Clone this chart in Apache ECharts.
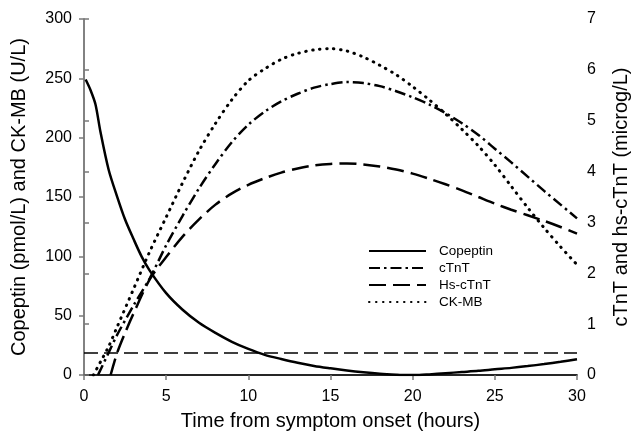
<!DOCTYPE html>
<html>
<head>
<meta charset="utf-8">
<script src="https://cdn.jsdelivr.net/npm/echarts@6/dist/echarts.min.js"></script>
<style>
  html, body { margin: 0; padding: 0; background: #fff; }
  #chart { width: 631px; height: 436px; }
</style>
</head>
<body>
<div id="chart"></div>
<script>
// hours from symptom onset, one array per curve (they start at different times)
const copeptinHours = [0.1, 0.4, 0.7, 1, 1.5, 2, 2.5, 3, 3.5, 4, 5, 6, 7, 8, 9, 10, 11, 12, 13, 14, 15, 16, 17, 18, 19, 19.6, 20.4, 21, 22, 23, 24, 25, 26, 27, 28, 29, 30]
const copeptin = [249, 240, 228, 205, 173, 151, 131, 115, 100, 88, 69, 55, 44, 35.5, 28, 22, 17, 13.5, 10.3, 7.6, 5.6, 3.8, 2.3, 1.1, 0.3, 0, 0, 0.5, 1.5, 2.5, 3.5, 4.8, 6, 7.5, 9.2, 11.1, 13.2]

const ckmbHours = [0.57, 1, 1.5, 2, 3, 4, 5, 6, 7, 8, 9, 10, 11, 12, 13, 14, 15, 16, 17, 18, 19, 20, 21, 22, 23, 24, 25, 26, 27, 28, 29, 30]
const ckmb = [0, 11, 24, 40, 72, 104, 133, 162, 189, 212, 232, 248, 258, 266, 271, 274, 275, 273, 268, 261, 253, 243, 232, 220, 207, 193, 177, 159, 141, 124, 108, 93]

const ctntHours = [0.85, 1, 1.5, 2, 3, 4, 5, 6, 7, 8, 9, 10, 11, 12, 13, 14, 15, 16, 17, 18, 19, 20, 21, 22, 23, 24, 25, 26, 27, 28, 29, 30]
const ctnt = [0, 0.1, 0.44, 0.78, 1.36, 1.9, 2.55, 3.13, 3.67, 4.15, 4.58, 4.92, 5.18, 5.38, 5.53, 5.65, 5.72, 5.76, 5.74, 5.68, 5.58, 5.46, 5.32, 5.15, 4.95, 4.72, 4.45, 4.18, 3.9, 3.62, 3.35, 3.08]

const hsHours = [1.62, 2, 2.5, 3, 4, 5, 6, 7, 8, 9, 10, 11, 12, 13, 14, 15, 16, 17, 18, 19, 20, 21, 22, 23, 24, 25, 26, 27, 28, 29, 30]
const hsCtnt = [0, 0.42, 0.83, 1.2, 1.88, 2.32, 2.72, 3.06, 3.35, 3.57, 3.74, 3.87, 3.98, 4.06, 4.12, 4.15, 4.16, 4.14, 4.1, 4.04, 3.96, 3.86, 3.75, 3.63, 3.5, 3.37, 3.25, 3.14, 3.03, 2.91, 2.78]

const cutoff = 19 // dashed reference line, left axis units

const zip = (xs, ys) => xs.map((x, i) => [x, ys[i]])

const font = '"Liberation Sans", Arial, sans-serif'
const axisGrey = '#7a7a7a'

const chart = echarts.init(document.getElementById('chart'))

function curve(name, hours, values, yAxisIndex, lineStyle) {
  return {
    name, type: 'line', yAxisIndex,
    data: zip(hours, values),
    smooth: 0.3,
    symbol: 'none',
    showSymbol: false,
    animation: false,
    lineStyle: Object.assign({ color: '#000', width: 2.5 }, lineStyle),
    itemStyle: { color: '#000' }
  }
}

const copeptinSeries = curve('Copeptin', copeptinHours, copeptin, 0, { type: 'solid' })
copeptinSeries.markLine = {
  silent: true, symbol: 'none', animation: false,
  label: { show: false },
  lineStyle: { color: '#000', width: 1.5, type: [14, 6] },
  data: [{ yAxis: cutoff }]
}

chart.setOption({
  backgroundColor: '#fff',
  grid: { left: 84, right: 54, top: 19, bottom: 61, outerBoundsMode: 'none', containLabel: false },
  legend: {
    orient: 'vertical',
    left: 363, top: 239,
    itemWidth: 57, itemHeight: 14, itemGap: 3,
    itemStyle: { opacity: 0 },
    textStyle: { fontFamily: font, fontSize: 13.5, color: '#000', padding: [0, 0, 0, 8] },
    data: ['Copeptin', 'cTnT', 'Hs-cTnT', 'CK-MB']
  },
  xAxis: [{
    type: 'value', min: 0, max: 30, interval: 5,
    name: 'Time from symptom onset (hours)',
    nameLocation: 'middle', nameGap: 36,
    nameTextStyle: { fontFamily: font, fontSize: 20, color: '#000' },
    axisLine: { lineStyle: { color: axisGrey, width: 1.5 } },
    axisTick: { show: true, length: 5, lineStyle: { color: axisGrey, width: 1.5 } },
    axisLabel: { fontFamily: font, fontSize: 16, color: '#000', margin: 14 },
    splitLine: { show: false }
  }, {
    type: 'value', min: 0, max: 30, position: 'top',
    axisLine: { show: true, lineStyle: { color: '#000', width: 1.5 } },
    axisTick: { show: false }, axisLabel: { show: false }, splitLine: { show: false }
  }],
  yAxis: [{
    type: 'value', min: 0, max: 300, interval: 50, position: 'left',
    name: 'Copeptin (pmol/L) and CK-MB (U/L)',
    nameLocation: 'middle', nameGap: 55, nameRotate: 90,
    nameTextStyle: { fontFamily: font, fontSize: 20, color: '#000' },
    axisLine: { show: true, lineStyle: { color: axisGrey, width: 1.5 } },
    axisTick: { show: true, length: 5, lineStyle: { color: axisGrey, width: 1.5 } },
    axisLabel: { fontFamily: font, fontSize: 16, color: '#000', margin: 12 },
    splitLine: { show: false }
  }, {
    type: 'value', min: 0, max: 7, interval: 1, position: 'right',
    name: 'cTnT and hs-cTnT (microg/L)',
    nameLocation: 'middle', nameGap: 34, nameRotate: 90,
    nameTextStyle: { fontFamily: font, fontSize: 20, color: '#000' },
    axisLine: { show: true, lineStyle: { color: axisGrey, width: 1.5 } },
    axisTick: { show: true, length: 5, lineStyle: { color: axisGrey, width: 1.5 } },
    axisLabel: { fontFamily: font, fontSize: 16, color: '#000', margin: 10 },
    splitLine: { show: false }
  }],
  series: [
    copeptinSeries,
    curve('cTnT', ctntHours, ctnt, 1, { type: [11, 4, 2.5, 4] }),
    curve('Hs-cTnT', hsHours, hsCtnt, 1, { type: [17, 7] }),
    curve('CK-MB', ckmbHours, ckmb, 0, { type: [0.5, 6.5], cap: 'round', width: 3 })
  ]
})
</script>
</body>
</html>
